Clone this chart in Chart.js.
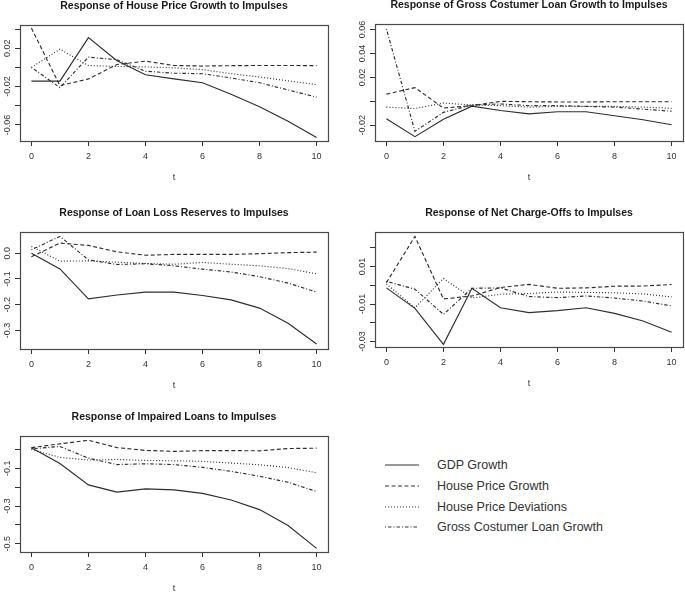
<!DOCTYPE html>
<html>
<head>
<meta charset="utf-8">
<script src="https://cdn.jsdelivr.net/npm/chart.js@4.4.0/dist/chart.umd.min.js"></script>
<style>
  html, body { margin: 0; padding: 0; background: #fff; overflow: hidden; }
  body { width: 685px; height: 594px; position: relative; font-family: "Liberation Sans", Arial, sans-serif; }
  canvas { position: absolute; }
  #legend { position: absolute; left: 385px; top: 455px; color: #333; font-size: 12.5px; }
  #legend .row { display: flex; align-items: center; height: 20.7px; }
  #legend svg { width: 34px; height: 4px; margin-right: 18px; }
</style>
</head>
<body>
<div id="legend"></div>
<script>
(function(){
  'use strict';

  const FONT = '"Liberation Sans", Arial, sans-serif';

  const steps = [0, 1, 2, 3, 4, 5, 6, 7, 8, 9, 10];
  const xTicks = [0, 2, 4, 6, 8, 10];
  const seriesNames = ['GDP Growth', 'House Price Growth', 'House Price Deviations', 'Gross Costumer Loan Growth'];

  // Response of House Price Growth
  const gdp1 = [-0.0143, -0.0143, 0.031, 0.007, -0.0076, -0.012, -0.016, -0.028, -0.041, -0.056, -0.073];
  const hpg1 = [0.041, -0.019, -0.012, 0.003, 0.0065, 0.002, 0.0014, 0.0018, 0.002, 0.002, 0.0018];
  const hpd1 = [0.0, 0.019, 0.002, 0.001, 0.0005, -0.0005, -0.0023, -0.0065, -0.01, -0.014, -0.018];
  const gcl1 = [0.0, -0.021, 0.0107, 0.008, -0.004, -0.006, -0.0066, -0.011, -0.016, -0.0235, -0.031];
  const yTicks1 = [0.04, 0.02, 0, -0.02, -0.04, -0.06];
  const yLabels1 = ['0.02', '-0.02', '-0.06'];

  // Response of Gross Costumer Loan Growth
  const gdp2 = [-0.0146, -0.0295, -0.015, -0.004, -0.0076, -0.0104, -0.0087, -0.0087, -0.012, -0.0154, -0.0195];
  const hpg2 = [0.006, 0.0115, -0.0056, -0.0036, 0.0, -0.0003, -0.0005, -0.0005, -0.0003, -0.0003, -0.0003];
  const hpd2 = [-0.0048, -0.006, -0.0014, -0.003, -0.0036, -0.0048, -0.0042, -0.0042, -0.0042, -0.0048, -0.0058];
  const gcl2 = [0.0606, -0.025, -0.0092, -0.003, -0.0022, -0.0036, -0.0036, -0.0042, -0.0048, -0.0065, -0.0083];
  const yTicks2 = [0.06, 0.04, 0.02, 0, -0.02];
  const yLabels2 = ['0.06', '0.04', '0.02', '-0.02'];

  // Response of Loan Loss Reserves
  const gdp3 = [0.0, -0.061, -0.177, -0.162, -0.151, -0.151, -0.164, -0.181, -0.213, -0.272, -0.352];
  const hpg3 = [-0.014, 0.039, 0.03, 0.005, -0.008, -0.005, -0.005, -0.005, -0.002, 0.002, 0.004];
  const hpd3 = [0.026, -0.031, -0.03, -0.035, -0.04, -0.043, -0.036, -0.043, -0.049, -0.06, -0.08];
  const gcl3 = [0.013, 0.065, -0.026, -0.044, -0.041, -0.049, -0.062, -0.073, -0.091, -0.116, -0.151];
  const yTicks3 = [0, -0.1, -0.2, -0.3];
  const yLabels3 = ['0.0', '-0.1', '-0.2', '-0.3'];

  // Response of Net Charge-Offs
  const gdp4 = [-0.0014, -0.0123, -0.0315, -0.0016, -0.012, -0.0146, -0.0135, -0.012, -0.015, -0.019, -0.025];
  const hpg4 = [0.0014, 0.026, -0.0073, -0.0057, -0.0012, 0.0005, -0.0016, -0.0014, -0.0005, -0.0004, 0.0004];
  const hpd4 = [0.0007, -0.012, 0.0036, -0.0068, -0.0048, -0.0044, -0.0036, -0.0038, -0.004, -0.0046, -0.0062];
  const gcl4 = [0.0021, -0.0021, -0.0155, -0.0016, -0.0014, -0.006, -0.0066, -0.0057, -0.0068, -0.0084, -0.011];
  const yTicks4 = [0.02, 0.01, 0, -0.01, -0.02, -0.03];
  const yLabels4 = ['0.01', '-0.01', '-0.03'];

  // Response of Impaired Loans
  const gdp5 = [0.009, -0.074, -0.188, -0.226, -0.209, -0.214, -0.233, -0.268, -0.319, -0.403, -0.525];
  const hpg5 = [0.01, 0.03, 0.049, 0.01, -0.005, -0.01, -0.006, -0.006, -0.007, 0.005, 0.007];
  const hpd5 = [0.0, -0.042, -0.056, -0.053, -0.058, -0.06, -0.063, -0.072, -0.081, -0.096, -0.123];
  const gcl5 = [0.004, 0.016, -0.046, -0.08, -0.076, -0.08, -0.095, -0.116, -0.142, -0.174, -0.223];
  const yTicks5 = [0, -0.1, -0.2, -0.3, -0.4, -0.5];
  const yLabels5 = ['-0.1', '-0.3', '-0.5'];

  const dashes = [[], [4, 2.5], [1, 2], [1, 2, 3.5, 2]];

  const panels = [
    { title: 'Response of House Price Growth to Impulses', series: [gdp1, hpg1, hpd1, gcl1],
      yTicks: yTicks1, yLabels: yLabels1, yMin: -0.0767, yMax: 0.0442, left: 20, top: 25, h: 116 },
    { title: 'Response of Gross Costumer Loan Growth to Impulses', series: [gdp2, hpg2, hpd2, gcl2],
      yTicks: yTicks2, yLabels: yLabels2, yMin: -0.0331, yMax: 0.0646, left: 375, top: 24, h: 117 },
    { title: 'Response of Loan Loss Reserves to Impulses', series: [gdp3, hpg3, hpd3, gcl3],
      yTicks: yTicks3, yLabels: yLabels3, yMin: -0.3715, yMax: 0.082, left: 20, top: 232, h: 117 },
    { title: 'Response of Net Charge-Offs to Impulses', series: [gdp4, hpg4, hpd4, gcl4],
      yTicks: yTicks4, yLabels: yLabels4, yMin: -0.0329, yMax: 0.0284, left: 375, top: 232, h: 115 },
    { title: 'Response of Impaired Loans to Impulses', series: [gdp5, hpg5, hpd5, gcl5],
      yTicks: yTicks5, yLabels: yLabels5, yMin: -0.544, yMax: 0.0716, left: 20, top: 436, h: 116 }
  ];

  // R-like box round the plot and rotated y labels
  const rStyle = {
    id: 'rStyle',
    afterDraw(chart, args, opts) {
      const {ctx, chartArea: a} = chart;
      const y = chart.scales.y;
      ctx.save();
      ctx.strokeStyle = '#4a4a4a';
      ctx.lineWidth = 1.2;
      ctx.strokeRect(Math.round(a.left) + 0.5, Math.round(a.top) + 0.5,
        Math.round(a.right - a.left), Math.round(a.bottom - a.top));
      ctx.fillStyle = '#333';
      ctx.font = '9px ' + FONT;
      ctx.textAlign = 'center';
      ctx.textBaseline = 'middle';
      (opts.labels || []).forEach(function(lab){
        ctx.save();
        ctx.translate(a.left - 12.5, y.getPixelForValue(parseFloat(lab)));
        ctx.rotate(-Math.PI / 2);
        ctx.fillText(lab, 0, 0);
        ctx.restore();
      });
      ctx.restore();
    }
  };

  panels.forEach(function(p){
    const cv = document.createElement('canvas');
    cv.width = 348;
    cv.height = 28 + p.h + 50;
    cv.style.left = (p.left - 20) + 'px';
    cv.style.top = (p.top - 28) + 'px';
    document.body.appendChild(cv);

    new Chart(cv, {
      type: 'line',
      data: {
        datasets: p.series.map(function(vals, i){
          return {
            label: seriesNames[i],
            data: vals.map(function(v, k){ return {x: steps[k], y: v}; }),
            borderColor: '#2e2e2e',
            borderWidth: 1.15,
            borderDash: dashes[i],
            pointRadius: 0,
            tension: 0,
            fill: false
          };
        })
      },
      options: {
        responsive: false,
        animation: false,
        devicePixelRatio: 1,
        layout: { padding: { left: 0, right: 20, top: 0, bottom: 0 } },
        plugins: {
          legend: { display: false },
          tooltip: { enabled: false },
          title: {
            display: true,
            fullSize: false,
            text: p.title,
            color: '#1a1a1a',
            font: { family: FONT, size: 10.5, weight: 'bold' },
            padding: { top: 3, bottom: 12.4 }
          },
          rStyle: { labels: p.yLabels }
        },
        scales: {
          x: {
            type: 'linear',
            min: -0.4,
            max: 10.4,
            afterBuildTicks: function(s){ s.ticks = xTicks.map(function(v){ return {value: v}; }); },
            afterFit: function(s){ s.height = 50; },
            grid: { drawOnChartArea: false, drawTicks: true, tickLength: 5, color: '#333' },
            border: { display: false },
            ticks: { font: { family: FONT, size: 9 }, color: '#333', padding: 5.3, maxRotation: 0, autoSkip: false },
            title: { display: true, text: 't', font: { family: FONT, size: 9 }, color: '#333', padding: { top: 0, bottom: 8.1 } }
          },
          y: {
            min: p.yMin,
            max: p.yMax,
            afterBuildTicks: function(s){ s.ticks = p.yTicks.map(function(v){ return {value: v}; }); },
            afterFit: function(s){ s.width = 20; },
            grid: { drawOnChartArea: false, drawTicks: true, tickLength: 5, color: '#333' },
            border: { display: false },
            ticks: { display: false }
          }
        }
      },
      plugins: [rStyle]
    });
  });

  // legend
  const legend = document.getElementById('legend');
  seriesNames.forEach(function(name, i){
    const row = document.createElement('div');
    row.className = 'row';
    row.innerHTML = '<svg viewBox="0 0 34 4"><line x1="0" y1="2" x2="34" y2="2" stroke="#333" stroke-width="1"' +
      (dashes[i].length ? ' stroke-dasharray="' + dashes[i].join(' ') + '"' : '') + '/></svg><span>' + name + '</span>';
    legend.appendChild(row);
  });
})();
</script>
</body>
</html>
